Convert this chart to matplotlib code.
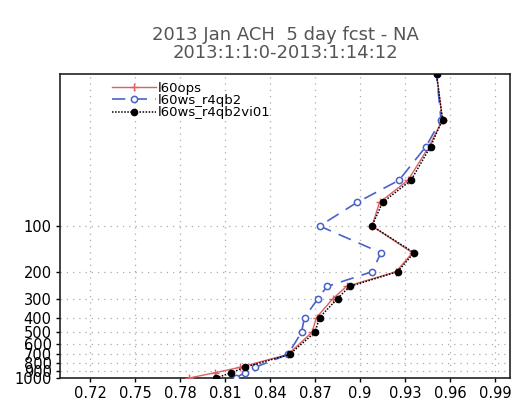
import matplotlib
matplotlib.use("Agg")
import matplotlib.pyplot as plt

levels = [1000, 925, 850, 700, 500, 400, 300, 250, 200, 150, 100, 70, 50, 30, 20, 10]
ops = [0.786, 0.803, 0.820, 0.852, 0.868, 0.871, 0.882, 0.891, 0.924, 0.935, 0.908, 0.913, 0.932, 0.946, 0.955, 0.951]
r4qb2 = [0.817, 0.823, 0.830, 0.852, 0.861, 0.863, 0.872, 0.878, 0.908, 0.914, 0.873, 0.898, 0.926, 0.944, 0.954, 0.951]
r4qb2vi01 = [0.804, 0.814, 0.823, 0.853, 0.870, 0.873, 0.885, 0.893, 0.925, 0.936, 0.908, 0.915, 0.934, 0.947, 0.955, 0.951]
series_names = ["l60ops", "l60ws_r4qb2", "l60ws_r4qb2vi01"]
xticks = [0.72, 0.75, 0.78, 0.81, 0.84, 0.87, 0.90, 0.93, 0.96, 0.99]
xticklabels = ["0.72", "0.75", "0.78", "0.81", "0.84", "0.87", "0.9", "0.93", "0.96", "0.99"]
yticks = [100, 200, 300, 400, 500, 600, 700, 800, 900, 1000]
title = "2013 Jan ACH  5 day fcst - NA\n2013:1:1:0-2013:1:14:12"

fig = plt.figure(figsize=(5.16, 4.05), dpi=100)
ax = fig.add_axes([60/516, 1-378/405, 450/516, 304/405])

ax.plot(ops, levels, color="#e06060", lw=1.0, marker="+", ms=6, mew=1.0, label=series_names[0], zorder=3)
ax.plot(r4qb2, levels, color="#4a62c8", lw=1.2, ls=(0, (8, 5)), marker="o", ms=4.5, mfc="white", mew=1.1, label=series_names[1], zorder=4)
ax.plot(r4qb2vi01, levels, color="black", lw=1.1, ls=(0, (1, 1)), marker="o", ms=4.5, mfc="black", label=series_names[2], zorder=5)

ax.set_yscale("log")
ax.set_ylim(1000, 10)
ax.set_xlim(0.70, 1.00)
ax.set_yticks(yticks)
ax.set_yticklabels([str(v) for v in yticks])
ax.yaxis.set_minor_locator(matplotlib.ticker.NullLocator())
ax.set_xticks(xticks)
ax.set_xticklabels(xticklabels)
ax.tick_params(axis="both", direction="out", length=3, width=1, labelsize=10.5, pad=3, colors="black")
for s in ax.spines.values():
    s.set_linewidth(1.2)
    s.set_color("#222222")

ax.grid(True, which="major", color="#aaaaaa", ls=(0, (1, 4)), lw=0.9)

leg = ax.legend(loc="upper left", bbox_to_anchor=(0.095, 1.005), frameon=False, fontsize=9.5,
                handlelength=3.3, handletextpad=0.2, labelspacing=-0.05, borderaxespad=0.3)

fig.text(285/516, 1-44/405, title, ha="center", va="center", fontsize=13, color="#555555", linespacing=0.95)

fig.savefig("out.png", dpi=100)
